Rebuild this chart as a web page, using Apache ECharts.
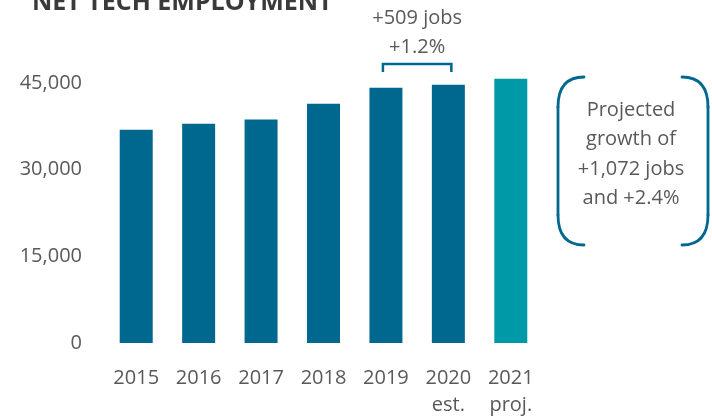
<!DOCTYPE html>
<html><head><meta charset="utf-8">
<script src="https://cdn.jsdelivr.net/npm/echarts@6/dist/echarts.min.js"></script>
<style>html,body{margin:0;padding:0;background:#fff}#c{width:712px;height:419px}</style>
</head><body><div id="c"></div>
<script>
const categories = ['2015','2016','2017','2018','2019','2020\nest.','2021\nproj.'];
const values = [36900, 37950, 38650, 41400, 44150, 44660, 45730];
const yTicks = [0, 15000, 30000, 45000];
const title = 'NET TECH EMPLOYMENT';
const noteSmall = ['+509 jobs', '+1.2%'];
const noteBig = ['Projected', 'growth of', '+1,072 jobs', 'and +2.4%'];

const dark = '#00688f', proj = '#0099a8', txt = '#595959';
const FONT = 'Open Sans';
const chart = echarts.init(document.getElementById('c'));
chart.setOption({
  animation: false,
  grid: {left: 105, right: 170, top: 54, bottom: 74},
  xAxis: {type: 'category', data: categories,
    axisLine: {show: false}, axisTick: {show: false},
    axisLabel: {color: txt, fontSize: 20, fontFamily: FONT, margin: 22, lineHeight: 27}},
  yAxis: {type: 'value', min: 0, max: 50000, interval: 15000,
    splitLine: {show: false}, axisLine: {show: false}, axisTick: {show: false},
    axisLabel: {color: txt, fontSize: 20, fontFamily: FONT, margin: 23,
      formatter: v => yTicks.includes(v) ? v.toLocaleString('en-US') : ''}},
  series: [{type: 'bar', barWidth: 33,
    data: values.map((v, i) => ({value: v, itemStyle: {color: i === values.length - 1 ? proj : dark}}))}]
});

const p19 = chart.convertToPixel({xAxisIndex: 0, yAxisIndex: 0}, [4, values[4]]);
const p20 = chart.convertToPixel({xAxisIndex: 0, yAxisIndex: 0}, [5, values[5]]);
const l = p19[0] - 3, r = p20[0] + 3, by = 64;
const cx = (l + r) / 2;
const L = 558, R = 708, T = 77, B = 245, bcx = 631, k = 26;
const ls = {stroke: dark, lineWidth: 2.8, fill: null, lineCap: 'round'};
function paren(x, dir) {
  // dir = +1 for left "(", -1 for right ")"
  return [
    {type: 'bezierCurve', shape: {x1: x + dir * k, y1: T, x2: x, y2: T + k + 4, cpx1: x, cpy1: T}, style: ls},
    {type: 'line', shape: {x1: x, y1: T + k + 4, x2: x, y2: B - k - 4}, style: ls},
    {type: 'bezierCurve', shape: {x1: x, y1: B - k - 4, x2: x + dir * k, y2: B, cpx1: x, cpy1: B}, style: ls}
  ];
}
chart.setOption({graphic: [
  {type: 'text', x: 32, y: -10, style: {text: title, font: 'bold 25px "Open Sans"', fill: '#3a3a3a'}},
  {type: 'text', x: cx, y: 18, style: {text: noteSmall[0], font: '20px "Open Sans"', fill: txt, align: 'center', verticalAlign: 'middle'}},
  {type: 'text', x: cx, y: 47, style: {text: noteSmall[1], font: '20px "Open Sans"', fill: txt, align: 'center', verticalAlign: 'middle'}},
  {type: 'polyline', shape: {points: [[l, by + 8], [l, by], [r, by], [r, by + 8]]}, style: {stroke: dark, lineWidth: 2.5, fill: null}},
  ...paren(L, 1), ...paren(R, -1),
  ...noteBig.map((t, i) => ({type: 'text', x: bcx, y: 110 + i * 29.4, style: {text: t, font: '20px "Open Sans"', fill: txt, align: 'center', verticalAlign: 'middle'}}))
]});
</script></body></html>
